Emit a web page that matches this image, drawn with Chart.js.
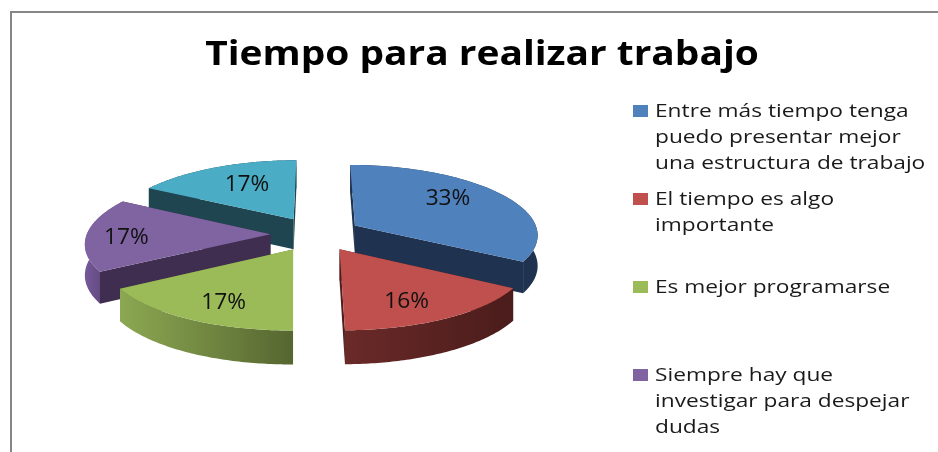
<!DOCTYPE html>
<html lang="es">
<head>
<meta charset="utf-8">
<title>Tiempo para realizar trabajo</title>
<script src="https://cdn.jsdelivr.net/npm/chart.js@4"></script>
<style>
html,body{margin:0;padding:0;background:#fff;overflow:hidden}
canvas{display:block;filter:blur(.35px)}
</style>
</head>
<body>
<canvas id="c" width="938" height="452"></canvas>
<script>
const chartTitle = "Tiempo para realizar trabajo";
const categories = [
  "Entre más tiempo tenga puedo presentar mejor una estructura de trabajo",
  "El tiempo es algo importante",
  "Es mejor programarse",
  "Siempre hay que investigar para despejar dudas",
  ""
];
const legendLines = [
  ["Entre más tiempo tenga", "puedo presentar mejor", "una estructura de trabajo"],
  ["El tiempo es algo", "importante"],
  ["Es mejor programarse"],
  ["Siempre hay que", "investigar para despejar", "dudas"]
];
const percentValues = [33.4, 16.4, 16.7, 16.7, 16.8];

const topColors  = ["#4f81bd", "#c0504d", "#9bbb59", "#8064a2", "#4bacc6"];
const faceColors = ["#1f324f", "#4f1f1d", "#5b6c33", "#3f2e4f", "#1e4550"];
const rimColors  = [["#1f324f","#1f324f"],["#6a2a28","#4a1c1b"],["#8ca852","#566630"],["#76599a","#4a3560"],["#1e4550","#1e4550"]];
const paintOrder = [4, 3, 2, 0, 1];
const labelReach = [0.62, 0.74, 0.77, 0.80, 0.62];
const labelNudge = [[1, -6], [-10, 3], [9, 1], [3, 3], [4, -1]];

const EXPLODE = 0.2484, TILT_A = 70, TILT_B = 7.65, PERSP = 0.12;

function project(arc, X, Yp) {
  const R = arc.outerRadius;
  return { x: arc.x + R * X * (1 + PERSP * Yp),
           y: arc.y + TILT_A * Yp + TILT_B * Yp * Yp };
}
function geom(arc) {
  const a0 = arc.startAngle + Math.PI / 2, a1 = arc.endAngle + Math.PI / 2;
  const mid = (a0 + a1) / 2;
  const ox = EXPLODE * Math.sin(mid), oy = -EXPLODE * Math.cos(mid);
  const at = (th, f = 1) => project(arc, ox + f * Math.sin(th), oy - f * Math.cos(th));
  return { a0, a1, mid, ox, oy, at };
}
const depth = (arc, p) => 30.5 + 2.5 * (p.y - arc.y) / TILT_A;

function poly(ctx, pts, fill) {
  ctx.beginPath();
  pts.forEach((p, i) => i ? ctx.lineTo(p.x, p.y) : ctx.moveTo(p.x, p.y));
  ctx.closePath();
  ctx.fillStyle = fill;
  ctx.fill();
}
const down = (arc, p) => ({ x: p.x, y: p.y + depth(arc, p) });

function stretchedText(ctx, text, x, y, sx) {
  ctx.save();
  ctx.translate(x, y);
  ctx.scale(sx, 1);
  ctx.fillText(text, 0, 0);
  ctx.restore();
}

const pie3d = {
  id: "pie3d",
  beforeDatasetDraw(chart, args) {
    const ctx = chart.ctx, arcs = args.meta.data;
    ctx.save();
    paintOrder.forEach(i => {
      const arc = arcs[i], g = geom(arc);
      const A = g.at(0, 0), N = 72, rim = [];
      for (let k = 0; k <= N; k++) rim.push(g.at(g.a0 + (g.a1 - g.a0) * k / N));
      const P1 = rim[0], P2 = rim[N];
      poly(ctx, [A, P1, down(arc, P1), down(arc, A)], faceColors[i]);
      poly(ctx, [A, P2, down(arc, P2), down(arc, A)], faceColors[i]);
      const xs = rim.map(p => p.x);
      const grad = ctx.createLinearGradient(Math.min(...xs), 0, Math.max(...xs), 0);
      grad.addColorStop(0, rimColors[i][0]);
      grad.addColorStop(1, rimColors[i][1]);
      poly(ctx, rim.concat(rim.slice().reverse().map(p => down(arc, p))), grad);
      poly(ctx, [A].concat(rim), arc.options.backgroundColor);
    });
    ctx.restore();
    return false;
  },
  afterDraw(chart) {
    const ctx = chart.ctx, arcs = chart.getDatasetMeta(0).data;
    ctx.save();
    // frame
    ctx.fillStyle = "#868686";
    ctx.fillRect(10, 11, 928, 2);
    ctx.fillRect(10, 11, 2, 441);
    // title
    ctx.fillStyle = "#000";
    ctx.textBaseline = "alphabetic";
    ctx.textAlign = "center";
    ctx.font = "bold 34.5px 'Open Sans'";
    stretchedText(ctx, chartTitle, 482, 65, 1.127);
    // value labels
    ctx.textBaseline = "middle";
    ctx.font = "21px 'Open Sans'";
    ctx.fillStyle = "#111";
    arcs.forEach((arc, i) => {
      const g = geom(arc), p = g.at(g.mid, labelReach[i]);
      stretchedText(ctx, Math.round(percentValues[i]) + "%", p.x + labelNudge[i][0], p.y + labelNudge[i][1], 1.08);
    });
    // legend
    ctx.textAlign = "left";
    ctx.textBaseline = "alphabetic";
    ctx.font = "18.5px 'Open Sans'";
    legendLines.forEach((lines, i) => {
      const y0 = 111 + 88 * i;
      ctx.fillStyle = topColors[i];
      ctx.fillRect(633, y0 - 6, 15, 12);
      ctx.fillStyle = "#1a1a1a";
      lines.forEach((t, j) => stretchedText(ctx, t, 655, y0 + 6 + j * 26, 1.227));
    });
    ctx.restore();
  }
};

new Chart(document.getElementById("c"), {
  type: "pie",
  data: {
    labels: categories,
    datasets: [{ data: percentValues, backgroundColor: topColors, borderWidth: 0, radius: 183.5 }]
  },
  options: {
    responsive: false,
    animation: false,
    rotation: 0,
    layout: { padding: { left: 0, right: 306, top: 16, bottom: 0 } },
    plugins: { legend: { display: false }, title: { display: false }, tooltip: { enabled: false } }
  },
  plugins: [pie3d]
});
</script>
</body>
</html>
